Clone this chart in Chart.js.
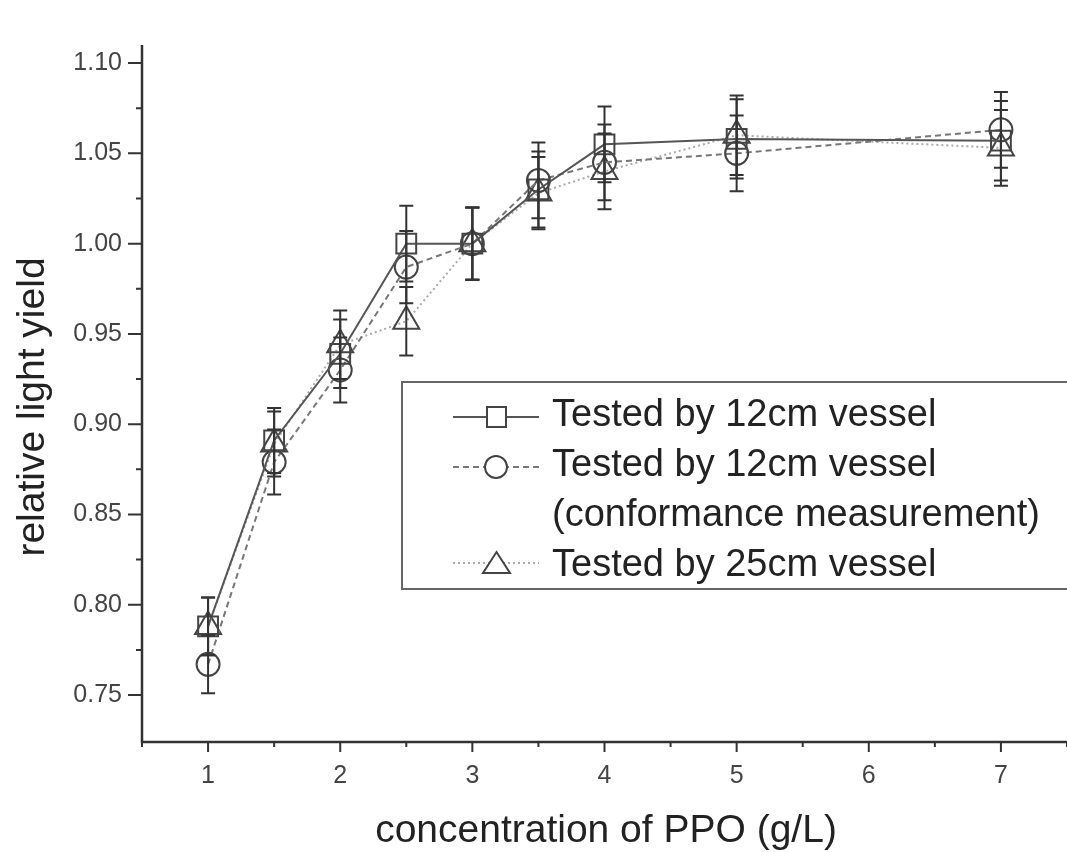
<!DOCTYPE html>
<html>
<head>
<meta charset="utf-8">
<script src="https://cdn.jsdelivr.net/npm/chart.js@4/dist/chart.umd.min.js"></script>
<style>
  html, body { margin: 0; padding: 0; background: #fff; overflow: hidden; }
  #wrap { width: 1067px; height: 852px; position: relative; }
  canvas { display: block; }
</style>
</head>
<body>
<div id="wrap"><canvas id="myChart"></canvas></div>
<script>
// data
const concentrations = [1, 1.5, 2, 2.5, 3, 3.5, 4, 5, 7];
const yield12 = [0.788, 0.891, 0.939, 1.000, 1.000, 1.030, 1.055, 1.058, 1.057];
const err12 = [0.016, 0.018, 0.019, 0.021, 0.020, 0.021, 0.021, 0.022, 0.022];
const yield12conf = [0.767, 0.879, 0.930, 0.987, 1.000, 1.035, 1.045, 1.050, 1.063];
const err12conf = [0.016, 0.018, 0.018, 0.020, 0.020, 0.021, 0.021, 0.021, 0.021];
const yield25 = [0.788, 0.889, 0.944, 0.957, 1.000, 1.028, 1.040, 1.060, 1.053];
const err25 = [0.016, 0.018, 0.019, 0.019, 0.020, 0.020, 0.021, 0.022, 0.021];
const xTicks = [1, 2, 3, 4, 5, 6, 7];
const yTicks = [0.75, 0.80, 0.85, 0.90, 0.95, 1.00, 1.05, 1.10];
const legendLabels = ['Tested by 12cm vessel', ['Tested by 12cm vessel', '(conformance measurement)'], 'Tested by 25cm vessel'];

const pts = ys => concentrations.map((x, i) => ({ x: x, y: ys[i] }));
const errs = [err12, err12conf, err25];
const FONT = '"Liberation Sans", Arial, sans-serif';

// setup
const data = {
  datasets: [{
    label: 'Tested by 12cm vessel',
    data: pts(yield12),
    borderColor: '#555',
    borderWidth: 2,
    pointStyle: 'rect',
    pointRadius: 14,
    pointBorderColor: '#444',
    pointBackgroundColor: 'rgba(255,255,255,0)',
    pointBorderWidth: 2
  }, {
    label: 'Tested by 12cm vessel (conformance measurement)',
    data: pts(yield12conf),
    borderColor: '#777',
    borderWidth: 2,
    borderDash: [6, 4],
    pointStyle: 'circle',
    pointRadius: 11.5,
    pointBorderColor: '#444',
    pointBackgroundColor: 'rgba(255,255,255,0)',
    pointBorderWidth: 2
  }, {
    label: 'Tested by 25cm vessel',
    data: pts(yield25),
    borderColor: '#aaa',
    borderWidth: 2,
    borderDash: [2, 3],
    pointStyle: 'triangle',
    pointRadius: 15,
    pointBorderColor: '#444',
    pointBackgroundColor: 'rgba(255,255,255,0)',
    pointBorderWidth: 2
  }]
};

// error bars, axes, titles and legend box
const extras = {
  id: 'extras',
  afterDatasetsDraw(chart) {
    const { ctx, scales: { x, y } } = chart;
    ctx.save();
    ctx.strokeStyle = '#333';
    ctx.lineWidth = 2;
    chart.data.datasets.forEach((ds, di) => {
      ds.data.forEach((p, i) => {
        const px = x.getPixelForValue(p.x);
        const top = y.getPixelForValue(p.y + errs[di][i]);
        const bot = y.getPixelForValue(p.y - errs[di][i]);
        ctx.beginPath();
        ctx.moveTo(px, top); ctx.lineTo(px, bot);
        ctx.moveTo(px - 7, top); ctx.lineTo(px + 7, top);
        ctx.moveTo(px - 7, bot); ctx.lineTo(px + 7, bot);
        ctx.stroke();
      });
    });
    ctx.restore();
  },
  afterDraw(chart) {
    const { ctx, chartArea: a, scales: { x, y } } = chart;
    ctx.save();
    ctx.strokeStyle = '#333';
    ctx.lineWidth = 2.5;
    ctx.beginPath();
    ctx.moveTo(a.left, a.top); ctx.lineTo(a.left, a.bottom); ctx.lineTo(a.right, a.bottom);
    ctx.stroke();
    ctx.lineWidth = 2;
    ctx.beginPath();
    for (let v = 0.5; v <= 7.5; v += 0.5) {
      const px = x.getPixelForValue(v);
      const len = Number.isInteger(v) ? 10 : 5;
      ctx.moveTo(px, a.bottom); ctx.lineTo(px, a.bottom + len);
    }
    for (let k = 0; k <= 14; k++) {
      const v = 0.75 + k * 0.025;
      const py = y.getPixelForValue(v);
      const len = k % 2 === 0 ? 14 : 6;
      ctx.moveTo(a.left, py); ctx.lineTo(a.left - len, py);
    }
    ctx.stroke();

    // axis titles
    ctx.fillStyle = '#222';
    ctx.font = '39px ' + FONT;
    ctx.textAlign = 'center';
    ctx.textBaseline = 'middle';
    ctx.fillText('concentration of PPO (g/L)', 606, 831);
    ctx.save();
    ctx.translate(33, 407);
    ctx.rotate(-Math.PI / 2);
    ctx.fillText('relative light yield', 0, 0);
    ctx.restore();

    // legend box
    ctx.fillStyle = '#fff';
    ctx.fillRect(402, 382, 680, 207);
    ctx.strokeStyle = '#666';
    ctx.lineWidth = 2;
    ctx.strokeRect(402, 382, 680, 207);

    const rows = [417, 467, 563];
    const textRows = [[416], [466, 516], [566]];
    chart.data.datasets.forEach((ds, di) => {
      const ly = rows[di];
      ctx.strokeStyle = ds.borderColor;
      ctx.lineWidth = 2;
      ctx.setLineDash(ds.borderDash || []);
      ctx.beginPath();
      ctx.moveTo(453, ly); ctx.lineTo(539, ly);
      ctx.stroke();
      ctx.setLineDash([]);
      ctx.fillStyle = '#fff';
      ctx.strokeStyle = '#444';
      ctx.beginPath();
      if (ds.pointStyle === 'rect') {
        ctx.rect(487, ly - 10, 19, 20);
      } else if (ds.pointStyle === 'circle') {
        ctx.arc(496, ly, 11, 0, Math.PI * 2);
      } else {
        ctx.moveTo(496.5, ly - 11);
        ctx.lineTo(510, ly + 10);
        ctx.lineTo(483, ly + 10);
        ctx.closePath();
      }
      ctx.fill();
      ctx.stroke();
      ctx.fillStyle = '#222';
      ctx.font = '38px ' + FONT;
      ctx.textAlign = 'left';
      ctx.textBaseline = 'middle';
      const lbl = legendLabels[di];
      const lines = Array.isArray(lbl) ? lbl : [lbl];
      lines.forEach((t, li) => ctx.fillText(t, 552, textRows[di][li]));
    });
    ctx.restore();
  }
};

// config
const config = {
  type: 'line',
  data,
  options: {
    responsive: true,
    maintainAspectRatio: false,
    animation: false,
    layout: { autoPadding: false, padding: { top: 45, right: 0, left: 0, bottom: 0 } },
    plugins: { legend: { display: false }, tooltip: { enabled: false } },
    scales: {
      x: {
        type: 'linear',
        min: 0.5,
        max: 7.5,
        afterBuildTicks: s => { s.ticks = xTicks.map(v => ({ value: v })); },
        afterFit: s => { s.height = 110; s.paddingLeft = 0; s.paddingRight = 0; },
        border: { display: false },
        grid: { display: true, drawOnChartArea: false, drawTicks: true, tickLength: 10, tickColor: 'rgba(0,0,0,0)' },
        ticks: { color: '#444', font: { size: 25, family: FONT }, padding: 9, maxRotation: 0 }
      },
      y: {
        min: 0.724,
        max: 1.11,
        afterBuildTicks: s => { s.ticks = yTicks.map(v => ({ value: v })); },
        afterFit: s => { s.width = 142; s.paddingTop = 0; s.paddingBottom = 0; },
        border: { display: false },
        grid: { display: true, drawOnChartArea: false, drawTicks: true, tickLength: 14, tickColor: 'rgba(0,0,0,0)' },
        ticks: { color: '#444', font: { size: 25, family: FONT }, padding: 6, callback: v => v.toFixed(2) }
      }
    }
  },
  plugins: [extras]
};

// render init block
const myChart = new Chart(document.getElementById('myChart'), config);
</script>
</body>
</html>
